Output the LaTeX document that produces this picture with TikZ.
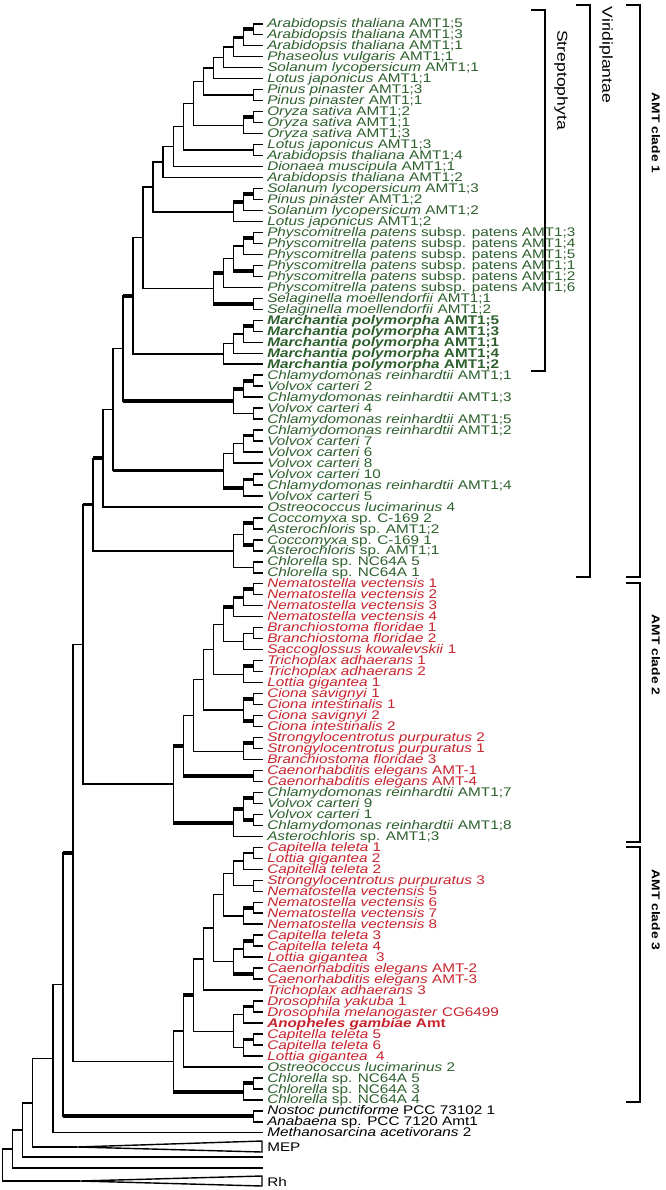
\documentclass[tikz,border=0pt]{standalone}
\usepackage{fontspec}
\setmainfont{Liberation Sans}[FakeStretch=1.22]
\usetikzlibrary{calc}
\definecolor{G}{RGB}{45,95,45}
\definecolor{R}{RGB}{200,35,45}
\tikzset{
  vl/.style={line width=1.05pt, line cap=rect},
  br/.style={line width=1.05pt},
  thk/.style={line width=2.9pt},
  lab/.style={anchor=base west, inner sep=0pt, xshift=3pt, yshift=-3.1pt, font=\fontsize{9.4}{10}\selectfont},
  brk/.style={line width=1.05pt},
  blab/.style={rotate=-90, inner sep=0pt, font=\fontsize{10.8}{12}\selectfont},
  clab/.style={rotate=-90, inner sep=0pt, font=\bfseries\fontsize{8.5}{10}\selectfont}
}
\newcommand\jn[6]{%
  \path ($(#3)!0.5!(#4)$) coordinate (tmp);
  \coordinate (#1) at (L#2 |- tmp);
  \draw[vl] (#3 -| #1) -- (#4 -| #1);
  \draw[br,#5] (#3 -| #1) -- (#3);
  \draw[br,#6] (#4 -| #1) -- (#4);
}
\newcommand\lf[3]{%
  \coordinate (l#1) at (263,{23.8+10.98*(#1-1)});
  \node[lab,text=#2] (t#1) at (l#1) {#3};
}
\begin{document}
\begin{tikzpicture}[x=0.75pt,y=-0.75pt]
\useasboundingbox (0,0) rectangle (665,1190);
\foreach \k in {0,...,26} \coordinate (L\k) at ({2.7+10.03*\k},0);
% leaves
\lf{1}{G}{\textit{Arabidopsis thaliana} AMT1;5}
\lf{2}{G}{\textit{Arabidopsis thaliana} AMT1;3}
\lf{3}{G}{\textit{Arabidopsis thaliana} AMT1;1}
\lf{4}{G}{\textit{Phaseolus vulgaris} AMT1;1}
\lf{5}{G}{\textit{Solanum lycopersicum} AMT1;1}
\lf{6}{G}{\textit{Lotus japonicus} AMT1;1}
\lf{7}{G}{\textit{Pinus pinaster} AMT1;3}
\lf{8}{G}{\textit{Pinus pinaster} AMT1;1}
\lf{9}{G}{\textit{Oryza sativa} AMT1;2}
\lf{10}{G}{\textit{Oryza sativa} AMT1;1}
\lf{11}{G}{\textit{Oryza sativa} AMT1;3}
\lf{12}{G}{\textit{Lotus japonicus} AMT1;3}
\lf{13}{G}{\textit{Arabidopsis thaliana} AMT1;4}
\lf{14}{G}{\textit{Dionaea muscipula} AMT1;1}
\lf{15}{G}{\textit{Arabidopsis thaliana} AMT1;2}
\lf{16}{G}{\textit{Solanum lycopersicum} AMT1;3}
\lf{17}{G}{\textit{Pinus pinaster} AMT1;2}
\lf{18}{G}{\textit{Solanum lycopersicum} AMT1;2}
\lf{19}{G}{\textit{Lotus japonicus} AMT1;2}
\lf{20}{G}{\textit{Physcomitrella patens} subsp. patens AMT1;3}
\lf{21}{G}{\textit{Physcomitrella patens} subsp. patens AMT1;4}
\lf{22}{G}{\textit{Physcomitrella patens} subsp. patens AMT1;5}
\lf{23}{G}{\textit{Physcomitrella patens} subsp. patens AMT1;1}
\lf{24}{G}{\textit{Physcomitrella patens} subsp. patens AMT1;2}
\lf{25}{G}{\textit{Physcomitrella patens} subsp. patens AMT1;6}
\lf{26}{G}{\textit{Selaginella moellendorfii} AMT1;1}
\lf{27}{G}{\textit{Selaginella moellendorfii} AMT1;2}
\lf{28}{G}{\textbf{\textit{Marchantia polymorpha} AMT1;5}}
\lf{29}{G}{\textbf{\textit{Marchantia polymorpha} AMT1;3}}
\lf{30}{G}{\textbf{\textit{Marchantia polymorpha} AMT1;1}}
\lf{31}{G}{\textbf{\textit{Marchantia polymorpha} AMT1;4}}
\lf{32}{G}{\textbf{\textit{Marchantia polymorpha} AMT1;2}}
\lf{33}{G}{\textit{Chlamydomonas reinhardtii} AMT1;1}
\lf{34}{G}{\textit{Volvox carteri} 2}
\lf{35}{G}{\textit{Chlamydomonas reinhardtii} AMT1;3}
\lf{36}{G}{\textit{Volvox carteri} 4}
\lf{37}{G}{\textit{Chlamydomonas reinhardtii} AMT1;5}
\lf{38}{G}{\textit{Chlamydomonas reinhardtii} AMT1;2}
\lf{39}{G}{\textit{Volvox carteri} 7}
\lf{40}{G}{\textit{Volvox carteri} 6}
\lf{41}{G}{\textit{Volvox carteri} 8}
\lf{42}{G}{\textit{Volvox carteri} 10}
\lf{43}{G}{\textit{Chlamydomonas reinhardtii} AMT1;4}
\lf{44}{G}{\textit{Volvox carteri} 5}
\lf{45}{G}{\textit{Ostreococcus lucimarinus} 4}
\lf{46}{G}{\textit{Coccomyxa} sp. C-169 2}
\lf{47}{G}{\textit{Asterochloris} sp. AMT1;2}
\lf{48}{G}{\textit{Coccomyxa} sp. C-169 1}
\lf{49}{G}{\textit{Asterochloris} sp. AMT1;1}
\lf{50}{G}{\textit{Chlorella} sp. NC64A 5}
\lf{51}{G}{\textit{Chlorella} sp. NC64A 1}
\lf{52}{R}{\textit{Nematostella vectensis} 1}
\lf{53}{R}{\textit{Nematostella vectensis} 2}
\lf{54}{R}{\textit{Nematostella vectensis} 3}
\lf{55}{R}{\textit{Nematostella vectensis} 4}
\lf{56}{R}{\textit{Branchiostoma floridae} 1}
\lf{57}{R}{\textit{Branchiostoma floridae} 2}
\lf{58}{R}{\textit{Saccoglossus kowalevskii} 1}
\lf{59}{R}{\textit{Trichoplax adhaerans} 1}
\lf{60}{R}{\textit{Trichoplax adhaerans} 2}
\lf{61}{R}{\textit{Lottia gigantea} 1}
\lf{62}{R}{\textit{Ciona savignyi} 1}
\lf{63}{R}{\textit{Ciona intestinalis} 1}
\lf{64}{R}{\textit{Ciona savignyi} 2}
\lf{65}{R}{\textit{Ciona intestinalis} 2}
\lf{66}{R}{\textit{Strongylocentrotus purpuratus} 2}
\lf{67}{R}{\textit{Strongylocentrotus purpuratus} 1}
\lf{68}{R}{\textit{Branchiostoma floridae} 3}
\lf{69}{R}{\textit{Caenorhabditis elegans} AMT-1}
\lf{70}{R}{\textit{Caenorhabditis elegans} AMT-4}
\lf{71}{G}{\textit{Chlamydomonas reinhardtii} AMT1;7}
\lf{72}{G}{\textit{Volvox carteri} 9}
\lf{73}{G}{\textit{Volvox carteri} 1}
\lf{74}{G}{\textit{Chlamydomonas reinhardtii} AMT1;8}
\lf{75}{G}{\textit{Asterochloris} sp. AMT1;3}
\lf{76}{R}{\textit{Capitella teleta} 1}
\lf{77}{R}{\textit{Lottia gigantea} 2}
\lf{78}{R}{\textit{Capitella teleta} 2}
\lf{79}{R}{\textit{Strongylocentrotus purpuratus} 3}
\lf{80}{R}{\textit{Nematostella vectensis} 5}
\lf{81}{R}{\textit{Nematostella vectensis} 6}
\lf{82}{R}{\textit{Nematostella vectensis} 7}
\lf{83}{R}{\textit{Nematostella vectensis} 8}
\lf{84}{R}{\textit{Capitella teleta} 3}
\lf{85}{R}{\textit{Capitella teleta} 4}
\lf{86}{R}{\textit{Lottia gigantea}\ \ 3}
\lf{87}{R}{\textit{Caenorhabditis elegans} AMT-2}
\lf{88}{R}{\textit{Caenorhabditis elegans} AMT-3}
\lf{89}{R}{\textit{Trichoplax adhaerans} 3}
\lf{90}{R}{\textit{Drosophila yakuba} 1}
\lf{91}{R}{\textit{Drosophila melanogaster} CG6499}
\lf{92}{R}{\textbf{\textit{Anopheles gambiae} Amt}}
\lf{93}{R}{\textit{Capitella teleta} 5}
\lf{94}{R}{\textit{Capitella teleta} 6}
\lf{95}{R}{\textit{Lottia gigantea}\ \ 4}
\lf{96}{G}{\textit{Ostreococcus lucimarinus} 2}
\lf{97}{G}{\textit{Chlorella} sp. NC64A 5}
\lf{98}{G}{\textit{Chlorella} sp. NC64A 3}
\lf{99}{G}{\textit{Chlorella} sp. NC64A 4}
\lf{100}{black}{\textit{Nostoc punctiforme} PCC 73102 1}
\lf{101}{black}{\textit{Anabaena} sp. PCC 7120 Amt1}
\lf{102}{black}{\textit{Methanosarcina acetivorans} 2}
% clade 1 seed plants
\jn{a1}{25}{l1}{l2}{}{}
\jn{a2}{24}{a1}{l3}{thk}{}
\jn{a3}{23}{a2}{l4}{thk}{}
\jn{a4}{22}{a3}{l5}{}{}
\jn{a5}{21}{a4}{l6}{}{}
\jn{a6}{25}{l7}{l8}{}{}
\jn{a7}{20}{a5}{a6}{}{}
\jn{a8}{25}{l9}{l10}{}{}
\jn{a9}{24}{a8}{l11}{thk}{}
\jn{a10}{19}{a7}{a9}{}{}
\jn{a11}{25}{l12}{l13}{}{}
\jn{a12}{18}{a10}{a11}{}{}
\jn{a13}{17}{a12}{l14}{}{}
\jn{a14}{16}{a13}{l15}{}{}
\jn{b1}{25}{l16}{l17}{}{}
\jn{b2}{24}{b1}{l18}{thk}{}
\jn{b3}{23}{b2}{l19}{thk}{}
\jn{b4}{15}{a14}{b3}{}{}
\jn{c1}{25}{l20}{l21}{}{}
\jn{c2}{24}{c1}{l22}{thk}{}
\jn{c3}{25}{l23}{l24}{}{}
\jn{c4}{23}{c2}{c3}{}{thk}
\jn{c5}{22}{c4}{l25}{}{}
\jn{c6}{25}{l26}{l27}{}{}
\jn{c7}{21}{c5}{c6}{thk}{thk}
\jn{d1}{14}{b4}{c7}{}{}
\jn{e1}{25}{l28}{l29}{}{}
\jn{e2}{24}{e1}{l30}{thk}{}
\jn{e3}{23}{e2}{l31}{}{}
\jn{e4}{22}{e3}{l32}{}{}
\jn{d2}{13}{d1}{e4}{}{}
\jn{f1}{25}{l33}{l34}{}{}
\jn{f2}{24}{f1}{l35}{thk}{}
\jn{f3}{25}{l36}{l37}{}{}
\jn{f4}{23}{f2}{f3}{thk}{}
\jn{d3}{12}{d2}{f4}{thk}{thk}
\jn{g1}{25}{l38}{l39}{}{}
\jn{g2}{24}{g1}{l40}{thk}{}
\jn{g3}{23}{g2}{l41}{}{}
\jn{g4}{25}{l42}{l43}{}{}
\jn{g5}{24}{g4}{l44}{thk}{}
\jn{g6}{22}{g3}{g5}{}{thk}
\jn{d4}{11}{d3}{g6}{}{thk}
\jn{d5}{10}{d4}{l45}{}{}
\jn{h1}{25}{l46}{l47}{}{}
\jn{h2}{25}{l48}{l49}{}{}
\jn{h3}{24}{h1}{h2}{thk}{thk}
\jn{h4}{25}{l50}{l51}{}{}
\jn{h5}{23}{h3}{h4}{}{}
\jn{d6}{9}{d5}{h5}{thk}{}
% clade 2
\jn{m1}{25}{l52}{l53}{}{}
\jn{m2}{24}{m1}{l54}{thk}{}
\jn{m3}{23}{m2}{l55}{thk}{}
\jn{m4}{25}{l56}{l57}{}{}
\jn{m5}{24}{m4}{l58}{}{}
\jn{m6}{22}{m3}{m5}{thk}{}
\jn{m7}{25}{l59}{l60}{}{}
\jn{m8}{24}{m7}{l61}{thk}{}
\jn{m9}{21}{m6}{m8}{}{}
\jn{m10}{25}{l62}{l63}{}{}
\jn{m11}{25}{l64}{l65}{}{}
\jn{m12}{24}{m10}{m11}{thk}{thk}
\jn{m13}{20}{m9}{m12}{}{}
\jn{m14}{25}{l66}{l67}{}{}
\jn{m15}{24}{m14}{l68}{thk}{}
\jn{m16}{19}{m13}{m15}{}{}
\jn{m17}{25}{l69}{l70}{}{}
\jn{m18}{18}{m16}{m17}{}{thk}
\jn{m19}{25}{l71}{l72}{}{}
\jn{m20}{25}{l73}{l74}{}{}
\jn{m21}{24}{m19}{m20}{thk}{thk}
\jn{m22}{23}{m21}{l75}{thk}{}
\jn{m23}{17}{m18}{m22}{thk}{thk}
\jn{d7}{8}{d6}{m23}{thk}{}
% clade 3
\jn{n1}{25}{l76}{l77}{}{}
\jn{n2}{24}{n1}{l78}{}{}
\jn{n3}{25}{l79}{l80}{}{}
\jn{n4}{23}{n2}{n3}{}{}
\jn{n5}{25}{l81}{l82}{}{}
\jn{n6}{24}{n5}{l83}{thk}{}
\jn{n7}{22}{n4}{n6}{}{}
\jn{n8}{25}{l84}{l85}{}{}
\jn{n9}{24}{n8}{l86}{thk}{}
\jn{n10}{25}{l87}{l88}{}{}
\jn{n11}{23}{n9}{n10}{}{thk}
\jn{n12}{21}{n7}{n11}{}{}
\jn{n13}{20}{n12}{l89}{}{}
\jn{n14}{25}{l90}{l91}{}{}
\jn{n15}{24}{n14}{l92}{thk}{}
\jn{n16}{25}{l93}{l94}{}{}
\jn{n17}{24}{n16}{l95}{thk}{}
\jn{n18}{23}{n15}{n17}{}{}
\jn{n19}{19}{n13}{n18}{}{}
\jn{n20}{18}{n19}{l96}{thk}{}
\jn{n21}{25}{l97}{l98}{}{}
\jn{n22}{24}{n21}{l99}{thk}{}
\jn{n23}{17}{n20}{n22}{}{thk}
\jn{d8}{7}{d7}{n23}{}{}
\jn{p1}{25}{l100}{l101}{}{}
\jn{d9}{6}{d8}{p1}{thk}{thk}
\jn{d10}{5}{d9}{l102}{}{}
% outgroups
\coordinate (mep) at (77,1147);
\coordinate (u1) at (263,1157);
\coordinate (u2) at (263,1168);
\coordinate (rh) at (80,1181);
\jn{d11}{3}{d10}{mep}{}{}
\jn{d12}{2}{d11}{u1}{}{}
\jn{d13}{1}{d12}{u2}{}{}
\jn{d14}{0}{d13}{rh}{}{}
\draw[vl, line cap=butt] (mep) -- (262,1141) -- (262,1152) -- cycle;
\draw[vl, line cap=butt] (rh) -- (262,1176) -- (262,1186) -- cycle;
\node[lab] (tmep) at (263,1147) {MEP};
\node[lab] (trh) at (263,1182) {Rh};
% brackets
\draw[brk] (531,10) -- (545,10) -- (545,371) -- (531,371);
\node[blab] (strep) at (561,80) {Streptophyta};
\draw[brk] (576,5) -- (590,5) -- (590,577) -- (576,577);
\node[blab] (virid) at (606,55) {Viridiplantae};
\draw[brk] (626,5) -- (640,5) -- (640,577) -- (626,577);
\node[clab] (c1l) at (656,133) {AMT clade 1};
\draw[brk] (626,583) -- (640,583) -- (640,842) -- (626,842);
\node[clab] (c2l) at (656,655) {AMT clade 2};
\draw[brk] (626,847) -- (640,847) -- (640,1102) -- (626,1102);
\node[clab] (c3l) at (656,910) {AMT clade 3};
\end{tikzpicture}
\end{document}
